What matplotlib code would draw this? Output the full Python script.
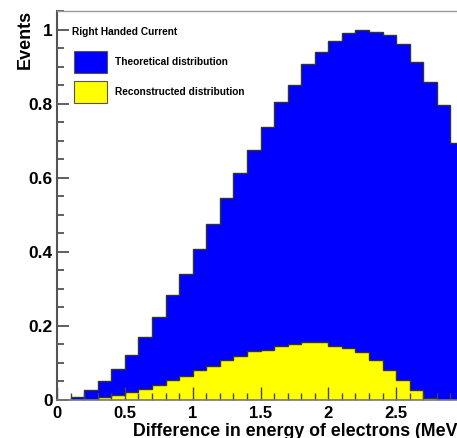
import matplotlib
matplotlib.use("Agg")
import matplotlib.pyplot as plt
from matplotlib.patches import Rectangle
from matplotlib.ticker import MultipleLocator

# bin edges (MeV) and normalised contents
edges = [round(0.1 * i, 1) for i in range(31)]
theoretical = [0.0, 0.007, 0.026, 0.050, 0.083, 0.121, 0.171, 0.225, 0.283, 0.339,
               0.407, 0.475, 0.545, 0.612, 0.676, 0.737, 0.804, 0.849, 0.906, 0.938,
               0.969, 0.991, 1.000, 0.994, 0.985, 0.960, 0.911, 0.859, 0.797, 0.693]
reconstructed = [0.0, 0.0, 0.003, 0.009, 0.013, 0.022, 0.031, 0.041, 0.054, 0.065,
                 0.081, 0.092, 0.108, 0.120, 0.133, 0.135, 0.146, 0.150, 0.156, 0.157,
                 0.147, 0.141, 0.129, 0.108, 0.081, 0.054, 0.026, 0.006, 0.0, 0.0]

x_ticks = [0, 0.5, 1, 1.5, 2, 2.5]
y_ticks = [0, 0.2, 0.4, 0.6, 0.8, 1]

legend_title = "Right Handed Current"
legend_labels = ["Theoretical distribution", "Reconstructed distribution"]
legend_colors = ["#0000ff", "#ffff00"]

W, H = 457, 438
BOLD = dict(family="Liberation Sans", weight="bold")


def fx(px):
    return px / W


def fy(py):
    return 1 - py / H


fig = plt.figure(figsize=(W / 100, H / 100), dpi=100)
# axes run to x=3, a little past the right edge of the picture
ax = fig.add_axes([fx(57), fy(400), 407 / W, 389 / H])

ax.stairs(theoretical, edges, fill=True, color=legend_colors[0], zorder=1)
ax.stairs(theoretical, edges, color="#333333", lw=1, zorder=1.1)
ax.stairs(reconstructed, edges, fill=True, color=legend_colors[1], zorder=1.2)
ax.stairs(reconstructed, edges, color="#333333", lw=1, zorder=1.3)

ax.set_xlim(0, 3)
ax.set_ylim(0, 1.05)

ax.set_xticks(x_ticks, [f"{v:g}" for v in x_ticks])
ax.set_yticks(y_ticks, [f"{v:g}" for v in y_ticks])
ax.xaxis.set_minor_locator(MultipleLocator(0.1))
ax.yaxis.set_minor_locator(MultipleLocator(0.05))

ax.tick_params(axis="x", which="major", direction="in", length=9.5, width=1,
               color="#444444", pad=4, labelsize=12)
ax.tick_params(axis="x", which="minor", direction="in", length=5, width=1,
               color="#444444")
ax.tick_params(axis="y", which="major", direction="in", length=8.5, width=1.2,
               color="#444444", pad=3, labelsize=12.5)
ax.tick_params(axis="y", which="minor", direction="in", length=5, width=1.2,
               color="#444444")
for lab in ax.get_xticklabels() + ax.get_yticklabels():
    lab.set_fontfamily("Liberation Sans")
    lab.set_fontweight("bold")

ax.spines["left"].set_color("#555555")
ax.spines["left"].set_linewidth(1.5)
ax.spines["bottom"].set_color("#777777")
ax.spines["bottom"].set_linewidth(1.2)
ax.spines["top"].set_color("#999999")
ax.spines["top"].set_linewidth(1)
ax.spines["right"].set_visible(False)

fig.text(fx(25), fy(10), "Events", rotation=90, ha="center", va="top",
         fontsize=13, **BOLD)
fig.text(fx(133), fy(436), "Difference in energy of electrons (MeV)",
         ha="left", va="baseline", fontsize=12.8, **BOLD)

# legend drawn by hand, ROOT style
fig.text(fx(72), fy(32), legend_title, ha="left", va="center", fontsize=7.3, **BOLD)
for i, (lab, col) in enumerate(zip(legend_labels, legend_colors)):
    yc = 62 + 30 * i
    fig.patches.append(Rectangle((fx(74), fy(yc + 11)), 33 / W, 22 / H,
                                 transform=fig.transFigure, facecolor=col,
                                 edgecolor="#555555", lw=0.8))
    fig.text(fx(115), fy(yc), lab, ha="left", va="center", fontsize=7.3, **BOLD)

fig.savefig("out.png", dpi=100)
